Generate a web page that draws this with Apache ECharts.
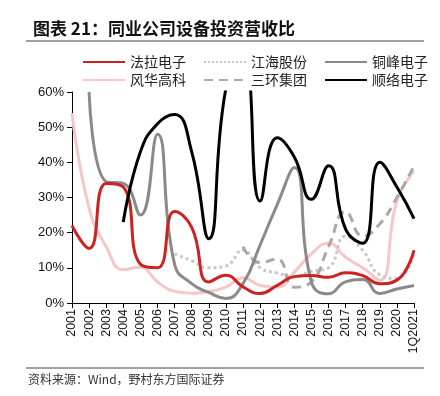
<!DOCTYPE html>
<html>
<head>
<meta charset="utf-8">
<script src="https://cdn.jsdelivr.net/npm/echarts@6/dist/echarts.min.js"></script>
<style>
	html, body { margin: 0; padding: 0; background: #fff; }
	#chart { width: 440px; height: 396px; }
</style>
</head>
<body>
<div id="chart"></div>
<script>
	var years = ['2001', '2002', '2003', '2004', '2005', '2006', '2007', '2008', '2009', '2010',
		'2011', '2012', '2013', '2014', '2015', '2016', '2017', '2018', '2019', '2020', '1Q2021'];

	// 设备投资营收比 (%)
	var falaDianzi = [22, 15.5, 34, 33, 11, 10, 26, 21.5, 6, 7.9, 4.6, 2.7, 5, 7.5, 7.8, 7.3, 8.6, 7.8, 5.5, 6.5, 15];
	var jianghai = [null, null, null, null, null, null, 14, 12, 10, 10.5, 15, 10, 8.5, 7.5, 9, 10, 19, 15, 8, 7, 14];
	var tongfeng = [null, 60, 34.5, 34, 25, 48, 11, 5.5, 3, 1.3, 5.5, 16.5, 28, 38.5, 6, 2.6, 6, 6.7, 2.7, 4, 5];
	var fenghua = [54, 27, 16, 9.5, 10.2, 6, 3.3, 2.8, 3.3, 4.5, 7.2, 5, 4.5, 8.8, 14, 17, 13, 10, 6.5, 29, 37.5];
	var sanhuan = [null, null, null, null, null, null, null, null, null, null, 16, 11.5, 12.5, 4.5, 6, 16, 26, 19, 22.5, 30, 39];
	var shunluo = [null, null, null, 23, 43, 51, 53.6, 43, 18.3, 61, 70, 29, 47, 41.5, 29.5, 39, 21, 17, 40, 33, 24];

	var legendRow1 = ['法拉电子', '江海股份', '铜峰电子'];
	var legendRow2 = ['风华高科', '三环集团', '顺络电子'];

	var cjk = '"Noto Sans CJK SC", sans-serif';
	var latin = '"Liberation Sans", Arial, sans-serif';

	function makeLine(name, data, color, type) {
		return {
			name: name,
			type: 'line',
			data: data,
			smooth: 0.5,
			symbol: 'none',
			connectNulls: false,
			lineStyle: {
				color: color,
				width: 3,
				type: type || 'solid'
			},
			// 图例里不画圆点
			itemStyle: { color: color, opacity: 0 }
		};
	}

	var legendBase = {
		left: 77,
		itemWidth: 42,
		itemHeight: 10,
		itemGap: 17,
		textStyle: { fontFamily: cjk, fontSize: 14, color: '#222' }
	};

	var option = {
		animation: false,
		backgroundColor: '#fff',
		title: {
			text: '图表 21：同业公司设备投资营收比',
			left: 28,
			top: 15,
			textStyle: { fontFamily: cjk, fontSize: 17, fontWeight: 'bold', color: '#111' }
		},
		legend: [
			Object.assign({}, legendBase, { top: 50, data: legendRow1 }),
			Object.assign({}, legendBase, { top: 68, data: legendRow2 })
		],
		grid: { left: 72, right: 26, top: 92, bottom: 93 },
		xAxis: {
			type: 'category',
			boundaryGap: false,
			data: years,
			axisLine: { lineStyle: { color: '#000', width: 1 } },
			axisTick: { show: true, length: 5, lineStyle: { color: '#000' } },
			axisLabel: { rotate: 90, margin: 6, fontFamily: latin, fontSize: 12.5, color: '#111', interval: 0 }
		},
		yAxis: {
			type: 'value',
			min: 0,
			max: 60,
			interval: 10,
			axisLine: { show: true, lineStyle: { color: '#000', width: 1 } },
			axisTick: { show: true, length: 5, lineStyle: { color: '#000' } },
			splitLine: { show: false },
			axisLabel: { formatter: '{value}%', margin: 8, fontFamily: latin, fontSize: 13, color: '#111' }
		},
		graphic: [
			{ type: 'line', shape: { x1: 26, y1: 41, x2: 424, y2: 41 }, style: { stroke: '#808080', lineWidth: 1.5 } },
			{ type: 'line', shape: { x1: 26, y1: 368, x2: 424, y2: 368 }, style: { stroke: '#808080', lineWidth: 1.5 } },
			{ type: 'text', left: 28, top: 373, style: { text: '资料来源：Wind，野村东方国际证券', font: '12px ' + cjk, fill: '#333' } }
		],
		series: [
			makeLine('风华高科', fenghua, '#f7c6c6'),
			makeLine('江海股份', jianghai, '#c8c8c8', 'dotted'),
			makeLine('三环集团', sanhuan, '#a9a9a9', [9, 6]),
			makeLine('铜峰电子', tongfeng, '#8a8a8a'),
			makeLine('法拉电子', falaDianzi, '#cc2222'),
			makeLine('顺络电子', shunluo, '#000000')
		]
	};

	var myChart = echarts.init(document.getElementById('chart'));
	myChart.setOption(option);
</script>
</body>
</html>
